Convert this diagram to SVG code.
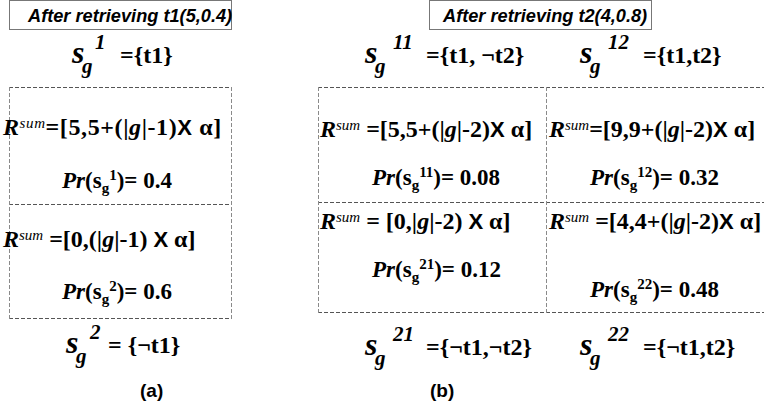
<svg xmlns="http://www.w3.org/2000/svg" width="764" height="419" viewBox="0 0 764 419">
<style>
.title{font-family:'Liberation Sans',Arial,sans-serif;font-weight:bold;font-style:italic;font-size:18.2px;fill:#000}
.cap{font-family:'Liberation Sans',Arial,sans-serif;font-weight:bold;font-size:19px;fill:#000}
.tbox{fill:#fff;stroke:#777;stroke-width:1}
.dh{fill:none;stroke:#555;stroke-width:1;stroke-dasharray:4,2}
.dv{fill:none;stroke:#8a8a8a;stroke-width:1;stroke-dasharray:4,2}
.m{font-family:'Liberation Serif','Times New Roman',serif;font-weight:bold;font-size:24px;fill:#000}
.bi{font-style:italic}
.s{font-size:32px;font-style:italic}
.ss{font-size:21px;font-style:italic}
.sm{font-size:15px;font-style:italic;font-weight:normal}
.x{font-family:'Liberation Sans',Arial,sans-serif;font-size:22px}
.sub{font-size:15px}
.pr{font-size:23px}
</style>
<g id="panel-a">
  <g id="title-a"><rect class="tbox" x="9.5" y="0.5" width="222" height="29"/><text class="title" x="28" y="22">After retrieving t1(5,0.4)</text></g>
  <g id="label-sg1"><text class="m" y="63"><tspan class="s" x="72">s</tspan><tspan class="ss" x="82" dy="10">g</tspan><tspan class="ss" x="95" dy="-24">1</tspan><tspan x="120" dy="14">={t1}</tspan></text></g>
  <g id="box-a">
    <line class="dh" x1="9" y1="87.5" x2="232" y2="87.5"/>
    <line class="dh" x1="9" y1="204.5" x2="232" y2="204.5"/>
    <line class="dh" x1="9" y1="318.5" x2="232" y2="318.5"/>
    <line class="dv" x1="9.5" y1="87" x2="9.5" y2="319"/>
    <line class="dv" x1="231.5" y1="87" x2="231.5" y2="319"/>
  </g>
  <g id="cell-a1">
    <text class="m" x="3" y="135" letter-spacing="0.6"><tspan class="bi">R</tspan><tspan class="sm" dy="-7">sum</tspan><tspan dy="7">=[5,5+(|</tspan><tspan class="bi">g</tspan>|-1)<tspan class="x">X</tspan> α]</text>
    <text class="m pr" x="62" y="188"><tspan class="bi">Pr</tspan>(s<tspan class="sub" dy="5">g</tspan><tspan class="sub" dy="-13">1</tspan><tspan dy="8">)= 0.4</tspan></text>
  </g>
  <g id="cell-a2">
    <text class="m" x="3" y="247"><tspan class="bi">R</tspan><tspan class="sm" dy="-7">sum</tspan><tspan dy="7"> =[0,(|</tspan><tspan class="bi">g</tspan>|-1) <tspan class="x">X</tspan> α]</text>
    <text class="m pr" x="62" y="299"><tspan class="bi">Pr</tspan>(s<tspan class="sub" dy="5">g</tspan><tspan class="sub" dy="-13">2</tspan><tspan dy="8">)= 0.6</tspan></text>
  </g>
  <g id="label-sg2"><text class="m" y="353"><tspan class="s" x="66">s</tspan><tspan class="ss" x="76" dy="10">g</tspan><tspan class="ss" x="90" dy="-24" font-style="normal">2</tspan><tspan x="108" dy="14">= {¬t1}</tspan></text></g>
  <text class="cap" x="140" y="397">(a)</text>
</g>
<g id="panel-b">
  <g id="title-b"><rect class="tbox" x="429.5" y="0.5" width="222" height="29"/><text class="title" x="443" y="22">After retrieving t2(4,0.8)</text></g>
  <g id="label-sg11"><text class="m" y="63"><tspan class="s" x="365">s</tspan><tspan class="ss" x="375" dy="10">g</tspan><tspan class="ss" x="393" dy="-24">11</tspan><tspan x="426" dy="14">={t1, ¬t2}</tspan></text></g>
  <g id="label-sg12"><text class="m" y="63"><tspan class="s" x="580">s</tspan><tspan class="ss" x="590" dy="10">g</tspan><tspan class="ss" x="608" dy="-24">12</tspan><tspan x="643" dy="14">={t1,t2}</tspan></text></g>
  <g id="box-b">
    <line class="dh" x1="318" y1="87.5" x2="764" y2="87.5"/>
    <line class="dh" x1="318" y1="202.5" x2="764" y2="202.5"/>
    <line class="dh" x1="318" y1="312.5" x2="764" y2="312.5"/>
    <line class="dv" x1="318.5" y1="87" x2="318.5" y2="313"/>
    <line class="dv" x1="546.5" y1="87" x2="546.5" y2="313"/>
  </g>
  <g id="cell-b11">
    <text class="m" x="320" y="137"><tspan class="bi">R</tspan><tspan class="sm" dy="-7">sum</tspan><tspan dy="7"> =[5,5+(|</tspan><tspan class="bi">g</tspan>|-2)<tspan class="x">X</tspan> α]</text>
    <text class="m pr" x="372" y="185"><tspan class="bi">Pr</tspan>(s<tspan class="sub" dy="5">g</tspan><tspan class="sub" dy="-13">11</tspan><tspan dy="8">)= 0.08</tspan></text>
  </g>
  <g id="cell-b12">
    <text class="m" x="549" y="137"><tspan class="bi">R</tspan><tspan class="sm" dy="-7">sum</tspan><tspan dy="7">=[9,9+(|</tspan><tspan class="bi">g</tspan>|-2)<tspan class="x">X</tspan> α]</text>
    <text class="m pr" x="590" y="185"><tspan class="bi">Pr</tspan>(s<tspan class="sub" dy="5">g</tspan><tspan class="sub" dy="-13">12</tspan><tspan dy="8">)= 0.32</tspan></text>
  </g>
  <g id="cell-b21">
    <text class="m" x="320" y="229"><tspan class="bi">R</tspan><tspan class="sm" dy="-7">sum</tspan><tspan dy="7"> = [0,|</tspan><tspan class="bi">g</tspan>|-2) <tspan class="x">X</tspan> α]</text>
    <text class="m pr" x="372" y="277"><tspan class="bi">Pr</tspan>(s<tspan class="sub" dy="5">g</tspan><tspan class="sub" dy="-13">21</tspan><tspan dy="8">)= 0.12</tspan></text>
  </g>
  <g id="cell-b22">
    <text class="m" x="549" y="229"><tspan class="bi">R</tspan><tspan class="sm" dy="-7">sum</tspan><tspan dy="7"> =[4,4+(|</tspan><tspan class="bi">g</tspan>|-2)<tspan class="x">X</tspan> α]</text>
    <text class="m pr" x="590" y="297"><tspan class="bi">Pr</tspan>(s<tspan class="sub" dy="5">g</tspan><tspan class="sub" dy="-13">22</tspan><tspan dy="8">)= 0.48</tspan></text>
  </g>
  <g id="label-sg21"><text class="m" y="355"><tspan class="s" x="365">s</tspan><tspan class="ss" x="375" dy="10">g</tspan><tspan class="ss" x="393" dy="-24">21</tspan><tspan x="426" dy="14">={¬t1,¬t2}</tspan></text></g>
  <g id="label-sg22"><text class="m" y="355"><tspan class="s" x="580">s</tspan><tspan class="ss" x="590" dy="10">g</tspan><tspan class="ss" x="608" dy="-24">22</tspan><tspan x="643" dy="14">={¬t1,t2}</tspan></text></g>
  <text class="cap" x="430" y="397">(b)</text>
</g>
</svg>
